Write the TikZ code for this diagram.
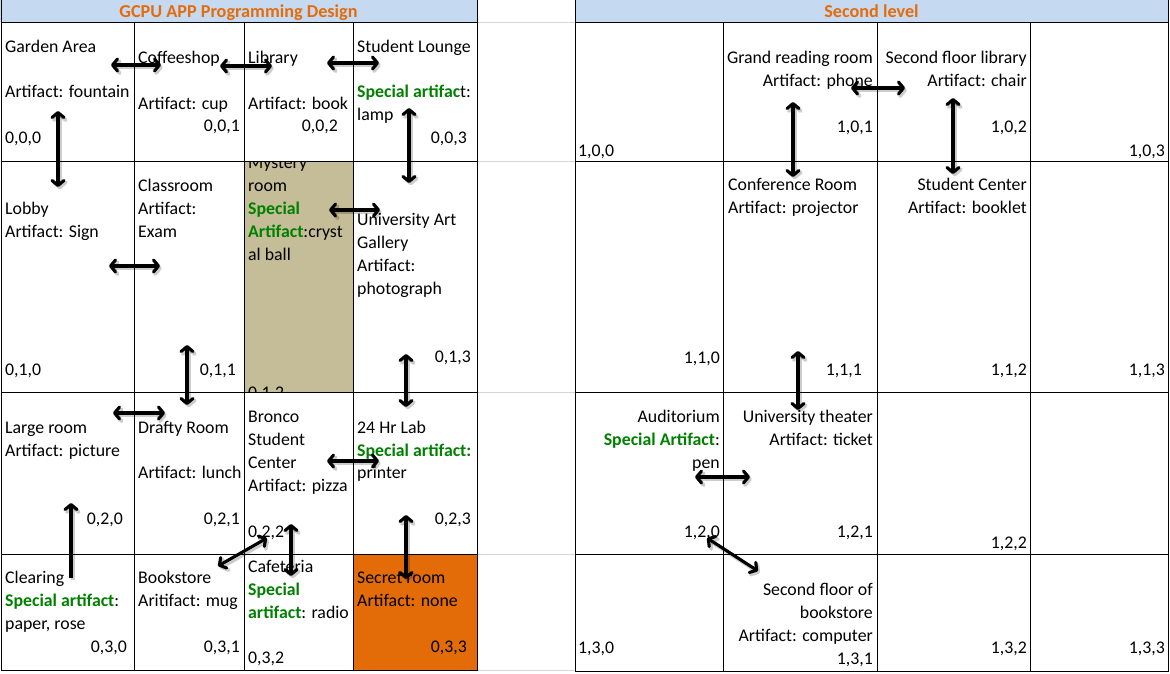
\documentclass[tikz,border=0pt]{standalone}
\usepackage{fontspec}
\setmainfont{Carlito}
\usetikzlibrary{arrows.meta}
\definecolor{hdr}{HTML}{C5D9F1}
\definecolor{ttl}{HTML}{E46C0A}
\definecolor{tanfill}{HTML}{C4BD97}
\definecolor{orgfill}{HTML}{E36C09}
\definecolor{sgreen}{RGB}{0,128,0}
\definecolor{gline}{HTML}{D4D4D4}
\newcommand\spc[1]{\textcolor{sgreen}{\bfseries #1}}
\newcounter{tc}
\newcommand\txL[3]{\stepcounter{tc}\node[txl] (t\arabic{tc}) at (#1,#2) {#3};}
\newcommand\txR[3]{\stepcounter{tc}\node[txr] (t\arabic{tc}) at (#1,#2) {#3};}
\newcounter{ac}
\newcommand\arrD[3]{\stepcounter{ac}%
  \coordinate (a\arabic{ac}s) at (#1);\coordinate (a\arabic{ac}e) at (#2);%
  \draw[#3,shd] ([shift={(1.8,2.2)}]a\arabic{ac}s) -- ([shift={(1.8,2.2)}]a\arabic{ac}e);%
  \draw[#3] (a\arabic{ac}s) -- (a\arabic{ac}e);}
\begin{document}
\begin{tikzpicture}[x=1pt,y=-1pt,
  txl/.style={anchor=base west,inner sep=0pt,font=\fontsize{17.8}{23}\selectfont},
  txr/.style={anchor=base east,inner sep=0pt,font=\fontsize{17.8}{23}\selectfont},
  hd/.style={anchor=base,inner sep=0pt,text=ttl,font=\fontsize{18.2}{23}\selectfont\bfseries},
  grid/.style={black,line width=1pt},
  gridg/.style={gline,line width=1pt},
  shd/.style={line width=3.8pt,draw=black,draw opacity=0.2},
  dbl/.style={line width=3.1pt,draw=black,{Straight Barb[length=5pt,width=12pt,line cap=round,line join=round]}-{Straight Barb[length=5pt,width=12pt,line cap=round,line join=round]}},
  sgl/.style={line width=3.1pt,draw=black,-{Straight Barb[length=5pt,width=12pt,line cap=round,line join=round]}}
]
\useasboundingbox (0,0) rectangle (1170,673);
% fills
\fill[hdr] (0,0) rectangle (477,22);
\fill[hdr] (575,0) rectangle (1168,22);
\fill[tanfill] (244,161) rectangle (353,392);
\fill[orgfill] (353,554) rectangle (477,670);
% gap grey lines
\draw[gridg] (477,22) -- (575,22);
\draw[gridg] (477,161) -- (575,161);
\draw[gridg] (477,392) -- (575,392);
\draw[gridg] (477,554) -- (575,554);
\draw[gridg] (477,670) -- (575,670);
% left grid
\draw[grid] (1,0) -- (1,670.5);
\draw[grid] (477,0) -- (477,670.5);
\draw[grid] (134,22) -- (134,670.5);
\draw[grid] (244,22) -- (244,670.5);
\draw[grid] (353,22) -- (353,670.5);
\draw[grid] (1,22) -- (477,22);
\draw[grid] (1,161) -- (477,161);
\draw[grid] (1,392) -- (477,392);
\draw[grid] (1,554) -- (477,554);
\draw[grid] (1,670) -- (477,670);
% right grid
\draw[grid] (575,0) -- (575,671.5);
\draw[grid] (1168,0) -- (1168,671.5);
\draw[grid] (723,22) -- (723,671.5);
\draw[grid] (877,22) -- (877,671.5);
\draw[grid] (1030,22) -- (1030,671.5);
\draw[grid] (575,22) -- (1168,22);
\draw[grid] (575,161) -- (1168,161);
\draw[grid] (575,392) -- (1168,392);
\draw[grid] (575,554) -- (1168,554);
\draw[grid] (575,671) -- (1168,671);
% headers
\node[hd] (h1) at (238.5,17) {GCPU APP Programming Design};
\node[hd] (h2) at (871.5,17) {Second level};
% ---- left level, row 0
\txL{5}{52}{Garden Area}
\txL{5}{97.5}{Artifact: fountain}
\txL{5}{143}{0,0,0}
\txL{138}{63.5}{Coffeeshop}
\txL{138}{109.5}{Artifact: cup}
\txR{240}{131.5}{0,0,1}
\txL{248}{63.5}{Library}
\txL{248}{109.5}{Artifact: book}
\txR{338}{131.5}{0,0,2}
\txL{357}{52}{Student Lounge}
\txL{357}{97.5}{\spc{Special artifac}t:}
\txL{357}{120.5}{lamp}
\txR{467}{143}{0,0,3}
% row 1
\txL{5}{214}{Lobby}
\txL{5}{237}{Artifact: Sign}
\txL{5}{375}{0,1,0}
\txL{138}{191}{Classroom}
\txL{138}{214}{Artifact:}
\txL{138}{237}{Exam}
\txR{236}{375}{0,1,1}
\begin{scope}
\clip (244.5,161.5) rectangle (352.5,391.5);
\txL{248}{168}{Mystery}
\txL{248}{191}{room}
\txL{248}{214}{\spc{Special}}
\txL{248}{237}{\spc{Artifact}:cryst}
\txL{248}{260}{al ball}
\txL{248}{398}{0,1,2}
\end{scope}
\txL{357}{225}{University Art}
\txL{357}{248}{Gallery}
\txL{357}{271}{Artifact:}
\txL{357}{294}{photograph}
\txR{471}{362}{0,1,3}
% row 2
\txL{5}{433}{Large room}
\txL{5}{456}{Artifact: picture}
\txR{123}{524}{0,2,0}
\txL{138}{433}{Drafty Room}
\txL{138}{478.5}{Artifact: lunch}
\txR{240}{524}{0,2,1}
\txL{248}{422}{Bronco}
\txL{248}{445}{Student}
\txL{248}{468}{Center}
\txL{248}{491}{Artifact: pizza}
\txL{248}{537}{0,2,2}
\txL{357}{433}{24 Hr Lab}
\txL{357}{456}{\spc{Special artifact:}}
\txL{357}{478.5}{printer}
\txR{471}{524}{0,2,3}
% row 3
\txL{5}{583.5}{Clearing}
\txL{5}{606.5}{\spc{Special artifact}:}
\txL{5}{629.5}{paper, rose}
\txR{127}{652.5}{0,3,0}
\txL{138}{583.5}{Bookstore}
\txL{138}{606.5}{Aritifact: mug}
\txR{240}{652.5}{0,3,1}
\txL{248}{572}{Cafeteria}
\txL{248}{595}{\spc{Special}}
\txL{248}{618}{\spc{artifact}: radio}
\txL{248}{663.5}{0,3,2}
\txL{357}{583.5}{Secret room}
\txL{357}{606.5}{Artifact: none}
\txR{467}{652.5}{0,3,3}
% ---- second level
\txL{578}{156}{1,0,0}
\txR{873}{63}{Grand reading room}
\txR{873}{86}{Artifact: phone}
\txR{873}{132}{1,0,1}
\txR{1027}{63}{Second floor library}
\txR{1027}{86}{Artifact: chair}
\txR{1027}{132}{1,0,2}
\txR{1165}{156}{1,0,3}
\txL{728}{190.5}{Conference Room}
\txL{728}{213.5}{Artifact: projector}
\txR{1027}{190.5}{Student Center}
\txR{1027}{213.5}{Artifact: booklet}
\txR{720}{363}{1,1,0}
\txR{862}{375}{1,1,1}
\txR{1027}{375}{1,1,2}
\txR{1165}{375}{1,1,3}
\txR{720}{422}{Auditorium}
\txR{720}{445}{\spc{Special Artifact}:}
\txR{720}{468}{pen}
\txR{720}{537}{1,2,0}
\txR{873}{422}{University theater}
\txR{873}{445}{Artifact: ticket}
\txR{873}{537}{1,2,1}
\txR{1027}{548.5}{1,2,2}
\txL{578}{653}{1,3,0}
\txR{873}{595.5}{Second floor of}
\txR{873}{618.5}{bookstore}
\txR{873}{641.5}{Artifact: computer}
\txR{873}{664.5}{1,3,1}
\txR{1027}{653}{1,3,2}
\txR{1165}{653}{1,3,3}
% ---- arrows
\arrD{111,65}{161,65}{dbl}
\arrD{220,66}{272,66}{dbl}
\arrD{327,63}{379,63}{dbl}
\arrD{58,111}{58,187}{dbl}
\arrD{409,108}{409,183}{dbl}
\arrD{109,266}{160,266}{dbl}
\arrD{329,210}{380,210}{dbl}
\arrD{187,345}{187,405}{dbl}
\arrD{406,354}{406,407}{dbl}
\arrD{113,413}{165,413}{dbl}
\arrD{327,461}{379,461}{dbl}
\arrD{218,566}{267,538}{dbl}
\arrD{291,524}{291,576}{dbl}
\arrD{406,515}{406,579}{dbl}
\arrD{71,578}{71,503}{sgl}
\arrD{851,88}{905,88}{dbl}
\arrD{793,102}{793,177}{dbl}
\arrD{953,98}{953,174}{dbl}
\arrD{798,351}{798,410}{dbl}
\arrD{695,477}{750,477}{dbl}
\arrD{707,538}{758,571}{dbl}
\end{tikzpicture}
\end{document}
